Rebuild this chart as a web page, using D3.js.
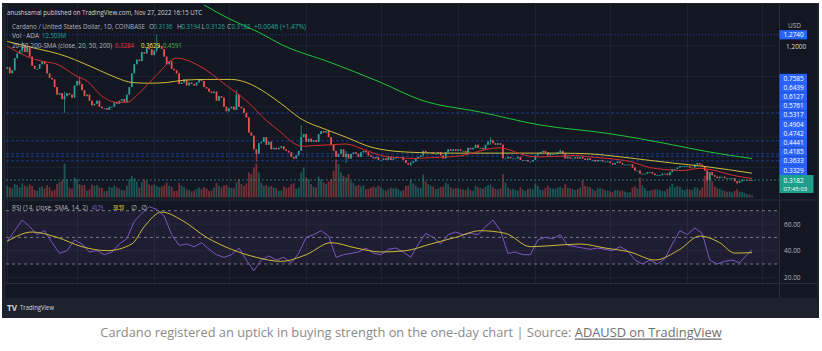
<!DOCTYPE html>
<html>
<head>
<meta charset="utf-8">
<script src="https://cdn.jsdelivr.net/npm/d3@7"></script>
<style>
	body { margin: 0; background: #fff; }
	svg { display: block; }
	text { font-family: "Open Sans", "Noto Sans", sans-serif; }
</style>
</head>
<body>
<div id="chart"></div>
<script>
// daily closes, ADA/USD, Feb 1 .. Nov 27 2022
const closesFeb = [1.06, 1.02, 1.04, 1.12, 1.15, 1.17, 1.20, 1.16, 1.19, 1.13, 1.07, 1.05, 1.05, 1.08, 1.10, 1.08, 1.02, 0.99, 0.98, 0.93, 0.88, 0.89, 0.85, 0.87, 0.89, 0.88, 0.86, 0.94];
const closesMar = [0.97, 0.95, 0.91, 0.87, 0.88, 0.84, 0.81, 0.82, 0.84, 0.80, 0.79, 0.79, 0.78, 0.80, 0.80, 0.83, 0.82, 0.84, 0.85, 0.83, 0.88, 0.93, 1.02, 1.08, 1.11, 1.10, 1.16, 1.15, 1.19, 1.18, 1.14];
const closesApr = [1.17, 1.19, 1.20, 1.18, 1.13, 1.08, 1.10, 1.05, 1.04, 1.02, 0.95, 0.96, 0.98, 0.94, 0.96, 0.95, 0.94, 0.96, 0.98, 0.97, 0.93, 0.92, 0.90, 0.89, 0.90, 0.84, 0.87, 0.86, 0.80, 0.77];
const closesMay = [0.79, 0.80, 0.78, 0.88, 0.80, 0.79, 0.76, 0.73, 0.63, 0.61, 0.52, 0.49, 0.56, 0.57, 0.60, 0.55, 0.57, 0.52, 0.53, 0.52, 0.53, 0.54, 0.52, 0.51, 0.50, 0.47, 0.46, 0.48, 0.51, 0.60, 0.62];
const closesJun = [0.57, 0.59, 0.57, 0.58, 0.57, 0.62, 0.64, 0.63, 0.64, 0.60, 0.55, 0.51, 0.47, 0.49, 0.52, 0.47, 0.49, 0.46, 0.49, 0.50, 0.49, 0.47, 0.50, 0.51, 0.50, 0.48, 0.47, 0.46, 0.47, 0.45];
const closesJul = [0.45, 0.46, 0.45, 0.47, 0.45, 0.46, 0.47, 0.47, 0.47, 0.45, 0.43, 0.42, 0.43, 0.44, 0.46, 0.47, 0.48, 0.51, 0.50, 0.50, 0.50, 0.49, 0.49, 0.50, 0.48, 0.46, 0.50, 0.52, 0.51, 0.52, 0.51];
const closesAug = [0.52, 0.51, 0.51, 0.50, 0.53, 0.52, 0.53, 0.55, 0.53, 0.53, 0.52, 0.55, 0.57, 0.58, 0.56, 0.55, 0.56, 0.55, 0.46, 0.46, 0.47, 0.46, 0.46, 0.46, 0.47, 0.45, 0.45, 0.45, 0.44, 0.44, 0.45];
const closesSep = [0.48, 0.49, 0.50, 0.51, 0.50, 0.48, 0.49, 0.49, 0.49, 0.50, 0.51, 0.49, 0.46, 0.47, 0.46, 0.46, 0.47, 0.46, 0.47, 0.46, 0.45, 0.46, 0.45, 0.45, 0.44, 0.45, 0.45, 0.44, 0.44, 0.44];
const closesOct = [0.43, 0.42, 0.43, 0.44, 0.43, 0.42, 0.42, 0.42, 0.42, 0.40, 0.38, 0.38, 0.36, 0.36, 0.36, 0.37, 0.37, 0.36, 0.35, 0.35, 0.35, 0.36, 0.36, 0.35, 0.37, 0.39, 0.39, 0.40, 0.41, 0.41, 0.41];
const closesNov = [0.41, 0.40, 0.40, 0.42, 0.43, 0.42, 0.41, 0.38, 0.32, 0.37, 0.35, 0.34, 0.33, 0.34, 0.34, 0.33, 0.33, 0.33, 0.33, 0.31, 0.30, 0.31, 0.32, 0.32, 0.32, 0.3136, 0.3182];
const firstOpen = 1.05;

// the longer wicks that show at this size
const wickDays  = [6, 23, 29, 60, 92, 100, 118, 136, 162, 194, 222, 281, 293];
const wickHighs = [1.23, 0.90, 1.00, 1.274, 0.91, 0.52, 0.68, 0.51, 0.44, 0.60, 0.52, 0.39, 0.31];
const wickLows  = [1.15, 0.76, 0.94, 1.16, 0.78, 0.44, 0.59, 0.43, 0.41, 0.55, 0.49, 0.31, 0.29];

// volume, millions of ADA
const volFeb = [70, 62, 55, 80, 75, 60, 85, 72, 66, 78, 70, 45, 40, 60, 68, 55, 74, 62, 40, 48, 80, 92, 100, 204, 110, 58, 52, 120];
const volMar = [110, 80, 72, 76, 42, 48, 78, 70, 74, 60, 58, 38, 40, 66, 58, 72, 60, 54, 45, 42, 70, 110, 130, 115, 96, 60, 92, 110, 100, 78, 72];
const volApr = [78, 70, 62, 66, 72, 90, 70, 64, 38, 40, 88, 72, 64, 50, 44, 36, 40, 52, 60, 50, 62, 55, 40, 42, 60, 88, 70, 60, 72, 76];
const volMay = [60, 58, 55, 90, 110, 80, 70, 85, 150, 140, 180, 204, 150, 90, 70, 75, 65, 70, 60, 55, 40, 42, 66, 58, 62, 80, 85, 52, 60, 150, 180];
const volJun = [120, 110, 80, 66, 60, 125, 110, 90, 80, 95, 110, 160, 228, 200, 150, 130, 120, 140, 96, 88, 70, 76, 66, 72, 50, 52, 60, 66, 60, 70];
const volJul = [62, 50, 40, 52, 60, 55, 58, 50, 38, 44, 70, 72, 108, 84, 70, 60, 58, 138, 96, 80, 72, 66, 50, 54, 64, 66, 88, 80, 60, 52, 56];
const volAug = [56, 50, 48, 46, 60, 44, 40, 70, 62, 56, 52, 64, 74, 78, 60, 52, 48, 56, 140, 90, 60, 48, 52, 46, 42, 62, 48, 40, 52, 54, 50];
const volSep = [84, 70, 48, 44, 56, 70, 58, 54, 52, 60, 66, 56, 80, 58, 56, 52, 44, 50, 60, 104, 70, 66, 62, 50, 40, 54, 56, 52, 44, 42];
const volOct = [36, 34, 44, 46, 40, 42, 36, 30, 32, 60, 66, 54, 120, 72, 56, 40, 42, 46, 50, 48, 44, 40, 38, 52, 66, 82, 60, 70, 64, 48, 44];
const volNov = [52, 48, 46, 62, 58, 44, 60, 130, 150, 120, 96, 66, 56, 52, 44, 40, 34, 36, 30, 40, 50, 36, 32, 28, 20, 18, 12.503];

// moving averages, sampled (day index from Feb 1)
const sma20Days = [0, 8, 14, 20, 28, 32, 38, 44, 48, 53, 60, 68, 77, 88, 96, 104, 110, 115, 119, 123, 130, 136, 143, 150, 157, 163, 170, 177, 183, 190, 197, 201, 206, 213, 222, 228, 234, 241, 250, 258, 266, 271, 278, 283, 291, 299];
const sma20Vals = [1.20, 1.13, 1.10, 1.08, 1.00, 0.97, 0.87, 0.83, 0.83, 0.89, 1.01, 1.12, 1.07, 0.94, 0.84, 0.71, 0.63, 0.56, 0.54, 0.545, 0.55, 0.555, 0.52, 0.48, 0.465, 0.46, 0.465, 0.47, 0.48, 0.51, 0.53, 0.52, 0.49, 0.47, 0.475, 0.48, 0.47, 0.46, 0.44, 0.40, 0.385, 0.38, 0.395, 0.385, 0.35, 0.3284];
const sma50Days = [0, 10, 24, 30, 37, 44, 50, 57, 64, 71, 80, 90, 96, 104, 110, 118, 128, 136, 146, 150, 163, 176, 190, 203, 222, 234, 241, 254, 267, 281, 299];
const sma50Vals = [1.23, 1.19, 1.13, 1.09, 1.04, 0.99, 0.96, 0.955, 0.96, 0.975, 0.98, 0.98, 0.96, 0.89, 0.82, 0.72, 0.65, 0.60, 0.535, 0.52, 0.50, 0.495, 0.495, 0.495, 0.495, 0.49, 0.48, 0.455, 0.43, 0.405, 0.3629];
const sma200Days = [79, 89, 101, 110, 130, 150, 166, 190, 214, 241, 254, 267, 281, 299];
const sma200Vals = [1.47, 1.38, 1.29, 1.21, 1.09, 0.96, 0.845, 0.765, 0.68, 0.625, 0.59, 0.55, 0.505, 0.4591];

// RSI(14), every 3rd day, plus the last day
const rsiStep = 3;
const rsiVals = [
	47, 55, 63, 58, 52, 55, 46, 38, 40, 48,
	45, 39, 40, 37, 39, 45, 49, 62, 68, 73,
	71, 66, 52, 44, 45, 43, 46, 41, 37, 35,
	37, 42, 33, 25, 33, 36, 33, 35, 31, 38,
	50, 52, 55, 51, 35, 37, 38, 39, 42, 38,
	37, 41, 42, 39, 35, 45, 53, 50, 45, 52,
	54, 52, 53, 52, 58, 63, 55, 38, 39, 37,
	37, 48, 50, 49, 52, 44, 43, 42, 41, 42,
	41, 40, 43, 40, 33, 30, 33, 30, 34, 45,
	55, 52, 57, 53, 33, 30, 32, 33, 31, 37
];
const rsiLastDay = 299, rsiLast = 40.59;
const rsiMaDays = [0, 10, 20, 30, 40, 50, 55, 62, 70, 80, 90, 100, 110, 120, 130, 140, 150, 160, 170, 180, 190, 200, 210, 220, 230, 240, 250, 260, 270, 278, 286, 292, 299];
const rsiMaVals = [47, 54, 50, 43, 40, 45, 58, 69, 63, 50, 41, 35, 32, 37, 46, 42, 39, 40, 45, 50, 55, 53, 43, 44, 45, 42, 39, 33, 41, 51, 46, 38.2, 38.5];

// drawn levels and axis labels
const levelLines = [0.7585, 0.5761, 0.4904, 0.4742, 0.4441];
const levelLabels = [0.7585, 0.6439, 0.6127, 0.5761, 0.5317, 0.4904, 0.4742, 0.4441, 0.4185, 0.3633, 0.3329];
const highMark = 1.274;
const lastPrice = 0.3182;
const priceTicks = [1.2];
const gridPrices = [0.4, 0.6, 0.8, 1.0, 1.2];
const rsiTicks = [20, 40, 60];
const months = ["Feb", "Mar", "Apr", "May", "Jun", "Jul", "Aug", "Sep", "Oct", "Nov", "Dec"];
const monthStarts = [0, 28, 59, 89, 120, 150, 181, 212, 242, 273, 303];

const closes = [].concat(closesFeb, closesMar, closesApr, closesMay, closesJun, closesJul, closesAug, closesSep, closesOct, closesNov);
const volumes = [].concat(volFeb, volMar, volApr, volMay, volJun, volJul, volAug, volSep, volOct, volNov);
const candles = closes.map((c, i) => {
	let o = i ? closes[i - 1] : firstOpen;
	let w = wickDays.indexOf(i);
	return {
		i, o, c, v: volumes[i],
		h: Math.max(o, c, w < 0 ? 0 : wickHighs[w]),
		l: Math.min(o, c, w < 0 ? 9 : wickLows[w]),
	};
});

const up = "#26a69a", down = "#ef5350", muted = "#b2b5be";
const pane = { left: 6, right: 779, top: 4, bottom: 199.5, rsiTop: 200.5, rsiBottom: 283 };

let x = d3.scaleLinear().domain([0, 303]).range([7.25, 7.25 + 303 * 2.491]);
let y = d3.scaleLinear().domain([lastPrice, 1.2]).range([180, 46]);
let yVol = d3.scaleLinear().domain([0, 240]).range([197.5, 157.5]);
let yRsi = d3.scaleLinear().domain([30, 70]).range([264, 210.7]);

let svg = d3.select("#chart").append("svg")
	.attr("width", 822)
	.attr("height", 351)
	.attr("viewBox", "0 0 822 351");

// frame, panes, footer
svg.append("rect").attr("x", 2).attr("y", 3).attr("width", 817).attr("height", 315).attr("fill", "#1e222d");
svg.append("rect").attr("x", pane.left).attr("y", pane.top).attr("width", 811).attr("height", 294).attr("fill", "#131722");

let defs = svg.append("defs");
defs.append("clipPath").attr("id", "clipMain").append("rect")
	.attr("x", pane.left).attr("y", pane.top).attr("width", pane.right - pane.left).attr("height", pane.bottom - pane.top);
defs.append("clipPath").attr("id", "clipRsi").append("rect")
	.attr("x", pane.left).attr("y", pane.rsiTop).attr("width", pane.right - pane.left).attr("height", pane.rsiBottom - pane.rsiTop);
defs.append("clipPath").attr("id", "clipTime").append("rect")
	.attr("x", 4.5).attr("y", pane.rsiBottom).attr("width", pane.right - 4.5).attr("height", 16);

// grid
let grid = svg.append("g").attr("class", "grid").attr("stroke", "#1f2330").attr("stroke-width", 1);
grid.selectAll("line.v").data(monthStarts).join("line").attr("class", "v")
	.attr("x1", d => Math.round(x(d)) + 0.5).attr("x2", d => Math.round(x(d)) + 0.5)
	.attr("y1", pane.top).attr("y2", pane.rsiBottom);
grid.selectAll("line.h").data(gridPrices).join("line").attr("class", "h")
	.attr("x1", pane.left).attr("x2", pane.right)
	.attr("y1", d => y(d)).attr("y2", d => y(d));
grid.selectAll("line.r").data(rsiTicks).join("line").attr("class", "r")
	.attr("x1", pane.left).attr("x2", pane.right)
	.attr("y1", d => yRsi(d)).attr("y2", d => yRsi(d));

// separators
let sep = svg.append("g").attr("stroke", "#2a2e39").attr("stroke-width", 1);
sep.append("line").attr("x1", pane.left).attr("x2", 817).attr("y1", pane.bottom + 0.5).attr("y2", pane.bottom + 0.5);
sep.append("line").attr("x1", pane.left).attr("x2", 817).attr("y1", pane.rsiBottom + 0.5).attr("y2", pane.rsiBottom + 0.5);
sep.append("line").attr("x1", pane.right + 0.5).attr("x2", pane.right + 0.5).attr("y1", pane.top).attr("y2", 298);

// main pane
let main = svg.append("g").attr("clip-path", "url(#clipMain)");

main.append("g").attr("class", "volume")
	.selectAll("rect").data(candles).join("rect")
	.attr("x", d => x(d.i) - 0.9)
	.attr("width", 1.8)
	.attr("y", d => yVol(d.v))
	.attr("height", d => yVol(0) - yVol(d.v))
	.attr("fill", d => d.c >= d.o ? up : down)
	.attr("fill-opacity", 0.45);

main.append("g").attr("class", "levels")
	.selectAll("line").data(levelLines).join("line")
	.attr("x1", pane.left).attr("x2", pane.right)
	.attr("y1", d => y(d)).attr("y2", d => y(d))
	.attr("stroke", "#2962ff").attr("stroke-opacity", 0.5)
	.attr("stroke-dasharray", "3,2");

main.append("line")
	.attr("x1", pane.left).attr("x2", pane.right)
	.attr("y1", y(highMark)).attr("y2", y(highMark))
	.attr("stroke", "#2962ff").attr("stroke-opacity", 0.6)
	.attr("stroke-dasharray", "1,2");

main.append("line")
	.attr("x1", pane.left).attr("x2", pane.right)
	.attr("y1", y(lastPrice)).attr("y2", y(lastPrice))
	.attr("stroke", up).attr("stroke-opacity", 0.7)
	.attr("stroke-dasharray", "2,2");

let candle = main.append("g").attr("class", "candles")
	.selectAll("g").data(candles).join("g")
	.attr("fill", d => d.c >= d.o ? up : down)
	.attr("stroke", d => d.c >= d.o ? up : down);
candle.append("line")
	.attr("x1", d => x(d.i)).attr("x2", d => x(d.i))
	.attr("y1", d => y(d.h)).attr("y2", d => y(d.l))
	.attr("stroke-width", 0.7);
candle.append("rect")
	.attr("stroke", "none")
	.attr("x", d => x(d.i) - 0.85)
	.attr("width", 1.7)
	.attr("y", d => y(Math.max(d.o, d.c)))
	.attr("height", d => Math.max(0.8, Math.abs(y(d.o) - y(d.c))));

let maLine = d3.line().x(d => x(d[0])).y(d => y(d[1])).curve(d3.curveMonotoneX);
main.append("path").datum(d3.zip(sma200Days, sma200Vals))
	.attr("d", maLine).attr("fill", "none").attr("stroke", "#22c43a").attr("stroke-width", 1);
main.append("path").datum(d3.zip(sma50Days, sma50Vals))
	.attr("d", maLine).attr("fill", "none").attr("stroke", "#cdbb3a").attr("stroke-width", 1);
main.append("path").datum(d3.zip(sma20Days, sma20Vals))
	.attr("d", maLine).attr("fill", "none").attr("stroke", "#d32f2f").attr("stroke-width", 1);

// RSI pane
let rsi = svg.append("g").attr("clip-path", "url(#clipRsi)");
rsi.append("rect")
	.attr("x", pane.left).attr("width", pane.right - pane.left)
	.attr("y", yRsi(70)).attr("height", yRsi(30) - yRsi(70))
	.attr("fill", "#7e57c2").attr("fill-opacity", 0.1);
rsi.selectAll("line.band").data([70, 50, 30]).join("line").attr("class", "band")
	.attr("x1", pane.left).attr("x2", pane.right)
	.attr("y1", d => yRsi(d)).attr("y2", d => yRsi(d))
	.attr("stroke", "#787b86").attr("stroke-dasharray", "3,3");

let rsiPoints = rsiVals.map((v, i) => [i * rsiStep, v]).concat([[rsiLastDay, rsiLast]]);
let rsiLine = d3.line().x(d => x(d[0])).y(d => yRsi(d[1]));
rsi.append("path").datum(rsiPoints)
	.attr("d", rsiLine).attr("fill", "none").attr("stroke", "#7e57c2").attr("stroke-width", 1);
rsi.append("path").datum(d3.zip(rsiMaDays, rsiMaVals))
	.attr("d", rsiLine.curve(d3.curveMonotoneX)).attr("fill", "none").attr("stroke", "#cdbb3a").attr("stroke-width", 1);

// axes
let fontSize = 6.5;
svg.append("g")
	.attr("class", "axis time")
	.attr("clip-path", "url(#clipTime)")
	.attr("transform", `translate(0, ${pane.rsiBottom + 4})`)
	.call(d3.axisBottom(x).tickValues(monthStarts).tickFormat((d, i) => months[i]).tickSize(0).tickPadding(0))
	.call(g => g.select(".domain").remove())
	.selectAll("text").attr("fill", muted).attr("font-size", fontSize);

svg.append("g")
	.attr("class", "axis y")
	.attr("transform", `translate(${pane.right + 5}, 0)`)
	.call(d3.axisRight(y).tickValues(priceTicks).tickFormat(d3.format(".4f")).tickSize(0).tickPadding(2))
	.call(g => g.select(".domain").remove())
	.selectAll("text").attr("fill", "#d1d4dc").attr("font-size", fontSize);

svg.append("g")
	.attr("class", "axis rsi")
	.attr("transform", `translate(${pane.right + 3}, 0)`)
	.call(d3.axisRight(yRsi).tickValues(rsiTicks).tickFormat(d3.format(".2f")).tickSize(0).tickPadding(2))
	.call(g => g.select(".domain").remove())
	.selectAll("text").attr("fill", muted).attr("font-size", fontSize);

svg.append("text").attr("x", pane.right + 9).attr("y", 28).attr("fill", muted).attr("font-size", fontSize).text("USD");

// price labels on the axis, pushed apart like the platform does
let tag = (cy, txt, fill, w) => {
	let g = svg.append("g");
	g.append("rect").attr("x", pane.right + 0.5).attr("y", cy - 4.6).attr("width", w).attr("height", 9.2).attr("fill", fill);
	g.append("text").attr("x", pane.right + 4.5).attr("y", cy).attr("dy", "0.35em")
		.attr("fill", "#fff").attr("font-size", fontSize).text(txt);
};
tag(y(highMark), d3.format(".4f")(highMark), "#2962ff", 27.5);

let lastTop = y(lastPrice) - 5;
let prev = lastTop + 4.6;
levelLabels.slice().sort((a, b) => a - b).forEach(v => {
	prev = Math.min(y(v), prev - 9.2);
	tag(prev, d3.format(".4f")(v), "#2962ff", 27.5);
});

svg.append("rect").attr("x", pane.right + 0.5).attr("y", lastTop).attr("width", 34).attr("height", 18).attr("fill", "#1f9e8a");
svg.append("text").attr("x", pane.right + 4.5).attr("y", y(lastPrice) + 0.5).attr("dy", "0.35em")
	.attr("fill", "#fff").attr("font-size", fontSize).text(d3.format(".4f")(lastPrice));
svg.append("text").attr("x", pane.right + 4.5).attr("y", y(lastPrice) + 9).attr("dy", "0.35em")
	.attr("fill", "#fff").attr("font-size", 6).text("07:45:03");

// legends
let label = (px, py, txt, fill, width, size) => {
	let t = svg.append("text").attr("x", px).attr("y", py).attr("dy", "0.35em")
		.attr("fill", fill).attr("font-size", size || fontSize).text(txt);
	if (width) t.attr("textLength", width).attr("lengthAdjust", "spacingAndGlyphs");
	return t;
};
label(7, 12.5, "anushsamal published on TradingView.com, Nov 27, 2022 16:15 UTC", "#d1d4dc", 195, 7);

label(12, 27, "Cardano / United States Dollar, 1D, COINBASE", muted, 133);
[["O", 149, "0.3136"], ["H", 177, "0.3194"], ["L", 201.5, "0.3126"], ["C", 227, "0.3182"]].forEach(([k, px, v]) => {
	label(px, 27, k, muted);
	label(px + 4.5, 27, v, up, 19);
});
label(254, 27, "+0.0046 (+1.47%)", up, 52);

label(12, 36, "Vol · ADA", muted, 27);
label(42, 36, "12.503M", up, 24);

label(12, 45.5, "20-50-200-SMA (close, 20, 50, 200)", muted, 100);
label(115, 45.5, "0.3284", "#f23645", 19);
label(141, 45.5, "0.3629", "#ffeb3b", 19);
label(163, 45.5, "0.4591", "#4caf50", 19);

label(12, 207.5, "RSI (14, close, SMA, 14, 2)", muted, 76);
label(92, 207.5, "40.59", "#8f6ad6", 11);
label(113, 207.5, "38.50", "#ffeb3b", 11);
label(131, 207.5, "∅", muted);
label(141, 207.5, "∅", muted);

// footer
svg.append("rect").attr("x", 2).attr("y", 298.5).attr("width", 817).attr("height", 19.5).attr("fill", "#1e222d");
label(7, 308, "TV", "#d1d4dc", 10, 8).attr("font-weight", 700);
label(20, 308, "TradingView", "#d1d4dc", 34, 7);

// caption
let caption = svg.append("text").attr("x", 411).attr("y", 333).attr("dy", "0.35em")
	.attr("text-anchor", "middle").attr("fill", "#8a8a8a").attr("font-size", 11);
caption.append("tspan").text("Cardano registered an uptick in buying strength on the one-day chart | Source: ");
caption.append("tspan").attr("fill", "#6f6f6f").attr("text-decoration", "underline").text("ADAUSD on TradingView");
let cw = caption.node().getComputedTextLength();
caption.attr("font-size", 11 * 622 / cw);
</script>
</body>
</html>
